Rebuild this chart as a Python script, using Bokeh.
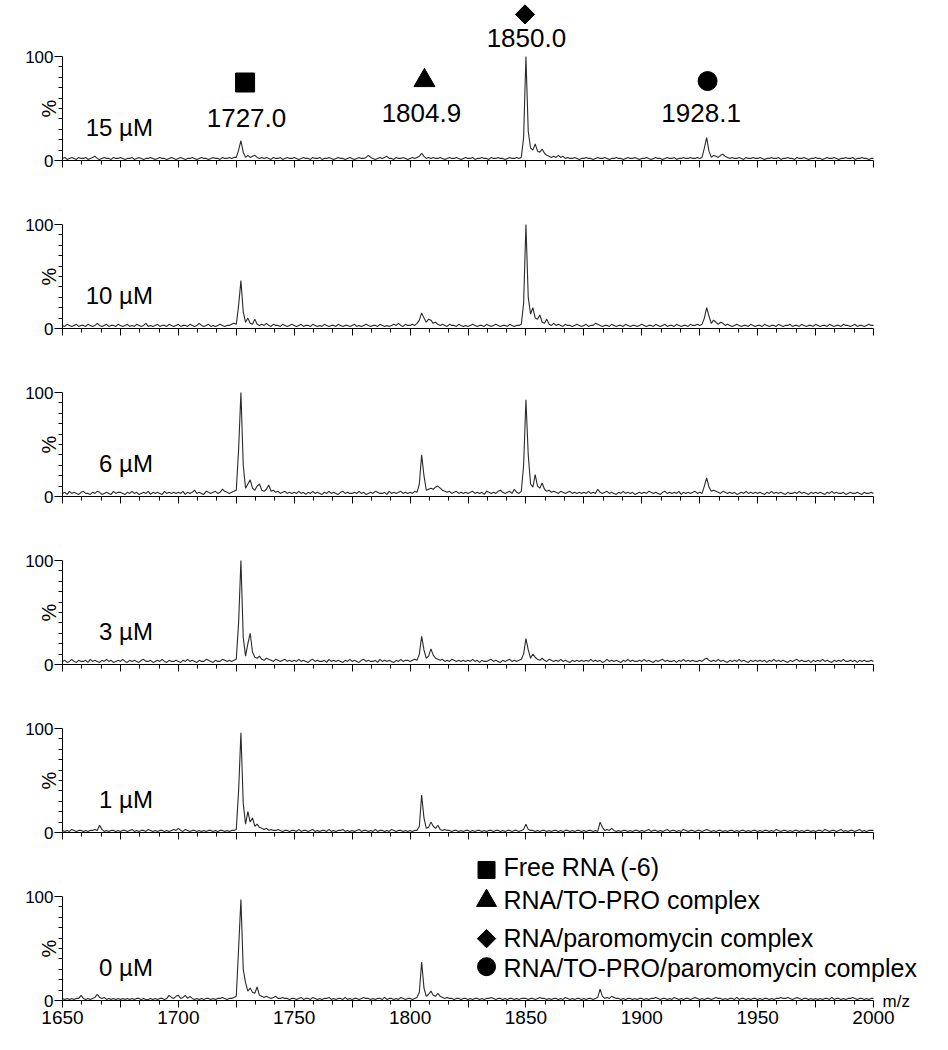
import math
from bokeh.plotting import figure
from bokeh.layouts import column
from bokeh.models import Range1d, FixedTicker, LinearAxis, ColumnDataSource
from bokeh.core.properties import value
from bokeh.embed import file_html
from bokeh.resources import INLINE

# ---------------- data ----------------
mz = list(range(1650, 2001))  # m/z grid, 1 unit step

int_15uM = [
    2,3,1,2,3, 2,1,3,2,2, 3,1,2,3,4, 2,1,2,3,2, 2,1,3,2,2,
    3,2,1,2,2, 3,1,2,3,2, 1,2,2,3,2, 1,2,3,2,2, 1,2,3,2,1,
    2,3,2,1,2, 2,3,2,1,2, 3,2,2,1,2, 3,2,2,1,3, 2,2,3,2,3,
    3,10,19,8,3, 5,3,4,5,3, 2,3,2,3,2, 1,3,2,2,3, 1,2,3,2,2,
    3,2,1,2,3, 2,2,1,3,2, 2,3,1,2,2, 3,2,1,2,3, 2,2,1,2,3,
    2,1,2,3,2, 2,3,5,3,2, 1,2,3,2,3, 4,2,2,1,3, 2,2,3,2,1,
    2,3,2,3,4, 7,4,2,3,2, 3,2,2,3,2, 1,2,3,2,2, 3,2,1,2,3,
    2,2,3,1,2, 2,3,2,2,1, 3,2,2,3,2, 2,1,2,3,2, 2,3,2,3,22,
    100,28,12,10,16, 9,8,11,7,5, 4,3,4,3,5, 3,4,2,3,2, 2,3,2,1,2,
    2,3,2,2,1, 2,3,2,2,3, 2,1,2,2,3, 2,2,1,2,3, 2,2,3,2,1,
    2,2,3,2,1, 2,3,2,2,1, 2,3,2,2,3, 1,2,2,3,2, 2,3,2,2,3,
    2,3,12,22,9, 3,5,4,3,5, 6,4,3,2,3, 2,2,3,2,1, 3,2,2,3,2,
    2,3,2,1,2, 2,3,2,2,3, 1,2,2,3,2, 2,1,3,2,2, 3,2,1,2,2,
    3,2,2,1,2, 3,2,2,3,2, 1,2,2,3,2, 2,3,1,2,2, 3,2,2,1,2,
    2,
]

int_10uM = [
    3,2,4,3,2, 3,4,2,3,3, 2,4,3,2,3, 5,3,2,3,4, 2,3,3,2,4,
    3,2,3,4,2, 3,2,4,3,2, 3,5,2,3,2, 3,4,2,3,3, 2,4,3,2,3,
    4,2,3,3,2, 4,3,2,3,5, 3,2,3,4,2, 3,2,3,4,3, 2,3,3,4,5,
    4,22,46,16,6, 10,5,4,9,4, 3,4,3,5,3, 2,4,3,3,2, 4,3,2,3,4,
    3,2,3,4,2, 3,3,2,4,3, 2,3,2,4,3, 2,3,3,2,4, 3,2,3,3,2,
    3,4,2,3,2, 3,4,3,2,3, 3,2,4,3,2, 3,2,3,4,3, 5,3,2,4,3,
    3,4,3,5,8, 15,10,6,9,8, 5,6,4,3,4, 3,2,4,3,3, 2,4,3,2,3,
    2,3,4,3,2, 3,3,2,4,3, 2,3,4,3,2, 3,3,2,4,3, 2,3,3,4,24,
    100,30,14,20,10, 9,13,6,5,9, 4,3,5,3,4, 3,2,4,3,3, 2,3,4,3,2,
    3,4,2,3,3, 5,4,3,2,3, 3,2,4,3,2, 3,3,2,4,3, 2,3,3,2,3,
    4,3,2,3,3, 2,4,3,2,3, 4,2,3,3,2, 4,3,2,3,3, 2,4,3,3,4,
    3,4,10,20,12, 5,8,6,4,6, 5,3,4,3,2, 3,4,3,2,3, 3,2,4,3,2,
    3,3,2,4,3, 2,3,3,2,4, 3,2,3,3,4, 2,3,3,2,4, 3,2,3,3,2,
    4,3,2,3,3, 2,4,3,2,3, 3,2,4,3,3, 2,3,4,2,3, 3,2,3,4,3,
    3,
]

int_6uM = [
    3,4,2,5,3, 4,3,2,4,5, 3,3,2,4,3, 5,4,2,3,4, 3,2,5,3,4,
    4,3,2,4,3, 5,3,4,2,3, 4,3,5,2,4, 3,4,3,2,5, 3,4,3,4,3,
    4,3,5,2,4, 3,4,6,3,4, 3,2,5,4,3, 4,5,3,4,7, 5,4,3,4,5,
    6,45,100,30,8, 12,16,8,6,10, 12,6,5,7,11, 5,6,4,5,3, 4,5,3,4,3,
    4,3,5,3,4, 2,4,3,5,3, 4,3,2,4,3, 5,3,4,3,2, 4,5,3,4,3,
    3,4,3,5,3, 4,2,3,4,3, 5,4,3,3,4, 2,5,3,4,3, 4,5,3,4,3,
    4,3,5,4,12, 40,20,6,7,8, 7,9,10,8,6, 5,4,5,3,4, 5,3,4,3,4,
    3,4,5,3,4, 3,4,2,5,4, 3,4,3,5,6, 4,3,4,5,3, 7,4,3,5,30,
    93,40,12,9,21, 10,8,13,7,5, 6,4,5,4,3, 5,4,3,4,5, 3,4,3,4,3,
    4,3,5,3,4, 3,7,4,3,4, 5,3,4,3,2, 4,3,5,3,4, 3,4,2,3,4,
    3,4,3,5,4, 3,4,3,2,4, 5,3,4,3,4, 3,5,2,4,3, 4,3,4,5,3,
    4,3,10,18,9, 5,6,5,4,3, 5,4,3,4,3, 4,2,3,4,3, 5,3,4,3,4,
    3,4,3,2,4, 3,5,3,4,3, 4,3,2,4,3, 3,4,3,5,3, 4,3,2,4,3,
    4,3,4,3,2, 4,3,5,3,4, 3,3,4,2,3, 4,3,3,4,3, 2,4,3,3,4,
    3,
]

int_3uM = [
    3,4,2,3,5, 3,2,4,3,3, 4,2,5,3,4, 3,2,4,3,5, 3,4,2,3,4,
    3,5,3,2,4, 3,4,3,2,4, 5,3,3,4,2, 3,4,3,5,3, 2,4,3,3,4,
    3,2,4,3,5, 3,4,3,2,4, 3,3,5,4,3, 2,4,3,3,5, 4,3,4,3,4,
    5,40,100,26,8, 20,30,12,7,6, 8,5,4,6,5, 4,3,5,4,3, 4,5,3,4,3,
    4,3,5,3,4, 3,2,4,5,3, 4,3,3,4,2, 5,3,4,3,4, 3,2,4,3,5,
    3,4,3,2,4, 5,3,4,3,3, 4,2,5,3,4, 3,4,3,2,4, 3,5,3,4,4,
    3,4,5,4,10, 27,14,6,8,15, 9,6,5,4,5, 3,4,3,5,4, 3,4,3,4,3,
    4,3,5,3,4, 2,4,3,3,4, 5,3,4,3,2, 4,3,4,5,3, 4,3,4,5,10,
    25,14,6,10,7, 5,4,6,4,3, 5,4,3,4,3, 5,3,4,3,2, 4,3,4,3,4,
    3,4,3,5,3, 4,3,4,2,3, 5,3,4,3,4, 3,2,4,3,5, 3,4,3,3,4,
    3,5,3,4,3, 2,4,3,4,5, 3,4,3,3,4, 2,4,3,5,3, 4,3,4,3,3,
    4,3,5,6,4, 3,4,3,5,3, 4,3,2,4,3, 4,3,5,3,4, 3,2,4,3,4,
    3,4,3,4,2, 4,3,5,3,4, 3,4,3,2,4, 3,4,5,3,4, 3,3,4,2,4,
    3,4,3,5,3, 4,3,2,4,3, 4,3,5,3,3, 4,3,4,2,4, 3,4,3,3,4,
    3,
]

int_1uM = [
    2,1,2,1,3, 2,1,2,2,1, 2,1,2,2,3, 2,7,3,1,2, 1,2,2,1,2,
    1,2,2,1,2, 3,1,2,1,2, 2,1,3,2,1, 2,1,2,2,1, 2,1,2,3,2,
    4,2,1,3,2, 1,2,2,1,2, 1,2,1,2,2, 1,2,1,2,2, 1,2,1,2,2,
    3,40,96,28,8, 20,10,14,6,8, 5,4,3,4,2, 3,2,2,3,2, 1,2,2,1,2,
    2,1,3,1,2, 2,1,2,3,1, 2,1,2,2,1, 3,1,2,1,2, 2,3,1,2,1,
    2,1,2,3,1, 2,2,1,2,1, 3,1,2,2,1, 2,1,3,2,1, 2,2,1,2,1,
    2,1,2,2,6, 36,14,4,5,10, 6,4,7,3,2, 3,2,2,1,2, 2,1,2,1,2,
    2,1,2,1,2, 2,1,2,1,2, 2,1,2,2,1, 2,1,2,2,1, 2,2,1,2,3,
    8,3,2,2,1, 2,1,2,2,1, 2,1,2,2,1, 2,1,2,2,1, 2,1,2,2,1,
    2,1,2,2,1, 2,1,10,5,2, 3,2,4,2,1, 2,1,2,2,1, 2,1,2,2,1,
    2,1,2,3,1, 2,2,1,2,1, 2,3,1,2,2, 1,2,1,3,2, 1,2,2,1,2,
    2,1,2,3,2, 1,2,1,2,2, 1,2,1,2,2, 1,2,1,2,2, 1,2,1,2,2,
    1,2,1,2,2, 1,2,1,3,2, 1,2,2,1,2, 1,2,2,1,2, 1,2,2,1,2,
    1,2,2,1,3, 2,1,2,2,1, 2,3,1,2,1, 2,2,1,2,3, 1,2,1,2,2,
    2,
]

int_0uM = [
    2,1,2,1,2, 1,2,2,5,2, 1,2,1,2,3, 6,3,2,3,1, 2,1,2,1,2,
    1,2,1,2,1, 2,1,2,2,1, 2,1,1,2,1, 2,1,2,2,1, 2,5,3,2,4,
    5,2,3,5,2, 4,2,1,2,1, 2,1,2,2,1, 2,1,2,2,3, 2,1,2,2,3,
    4,50,97,30,17, 9,12,8,7,13, 5,4,3,4,3, 2,3,4,2,2, 3,2,2,1,2,
    2,1,2,3,1, 2,2,1,3,2, 1,2,1,2,2, 3,1,2,1,2, 2,1,3,1,2,
    1,2,2,1,2, 3,2,2,1,2, 1,2,2,1,3, 1,2,2,1,2, 1,3,2,1,2,
    2,1,2,3,8, 37,12,4,6,9, 5,4,7,4,3, 2,3,2,2,1, 2,2,1,2,2,
    1,2,1,2,2, 1,2,1,2,2, 3,2,1,2,2, 1,2,1,2,2, 1,2,1,2,2,
    2,1,2,2,1, 2,3,2,2,1, 2,1,2,2,1, 2,1,3,2,1, 2,1,2,2,1,
    2,1,2,2,1, 2,3,11,4,2, 3,2,4,3,2, 2,1,2,1,2, 2,1,2,1,2,
    2,1,2,1,2, 2,3,2,1,2, 2,1,2,1,3, 2,1,2,1,2, 2,1,2,3,2,
    1,2,1,2,2, 1,2,3,2,2, 1,2,1,2,2, 1,3,1,2,2, 1,2,1,2,2,
    1,2,1,2,2, 1,2,1,2,2, 3,2,2,3,2, 1,2,3,2,1, 2,2,1,2,1,
    2,1,2,1,2, 2,1,3,1,2, 2,1,2,1,2, 2,3,2,1,2, 2,1,2,1,2,
    2,
]

concentrations = ["15 \u00b5M", "10 \u00b5M", "6 \u00b5M", "3 \u00b5M", "1 \u00b5M", "0 \u00b5M"]
spectra = [int_15uM, int_10uM, int_6uM, int_3uM, int_1uM, int_0uM]

peak_mz = [1727.0, 1804.9, 1850.0, 1928.1]
peak_labels = ["1727.0", "1804.9", "1850.0", "1928.1"]
legend_labels = ["Free RNA (-6)", "RNA/TO-PRO complex",
                 "RNA/paromomycin complex", "RNA/TO-PRO/paromomycin  complex"]

x_major = list(range(1650, 2001, 25))
x_labelled = list(range(1650, 2001, 50))
y_major = [0, 100]
y_minor = [10, 20, 30, 40, 50, 60, 70, 80, 90]

# ---------------- layout / style ----------------
FONT = "Liberation Sans"
PX_PER_UNIT = 811 / 350.0          # horizontal px per m/z unit
AXIS_PX = 62                       # screen x of m/z 1650
FIG_W = 932
X0 = 1650 - AXIS_PX / PX_PER_UNIT
X1 = X0 + FIG_W / PX_PER_UNIT
K = 1.04                           # vertical px per % unit
x_minor = [t + d * 25 / 3.0 for t in x_major[:-1] for d in (1, 2)]
x_long_unlabelled = [t for t in x_major if t not in x_labelled]

# canvas heights and position of the zero line inside each canvas
fig_heights = [175, 168, 168, 168, 168, 187]
zero_from_top = [160, 153, 153, 153, 153, 153]

# symbol layout (data coords in panel 1 / panel 6)
mark_x = [1728.8, 1806.2, 1849.6, 1928.4]
mark_y = [75.0, 76.9, 140.5, 76.4]
lab_x = [1729.4, 1804.9, 1850.2, 1925.6]
lab_y = [40.9, 45.7, 117.8, 45.2]
markers = ["square", "triangle", "square", "circle"]
msizes = [19, 21, 13.5, 19]
mangles = [0, 0, math.pi / 4, 0]
leg_mark_sizes = [17, 20, 13, 18]
leg_mark_y = [125.5, 96.0, 59.5, 32.5]
leg_text_y = [128.5, 97.0, 60.5, 31.5]
leg_mark_x = 1833.0
leg_text_x = 1840.3


def style_axis(ax):
    ax.axis_line_color = "black"
    ax.major_tick_line_color = "black"
    ax.minor_tick_line_color = "black"
    ax.major_tick_in = 0
    ax.minor_tick_in = 0
    ax.major_label_text_font = FONT
    ax.major_label_text_color = "black"


figs = []
n = len(spectra)
for i, (conc, ys) in enumerate(zip(concentrations, spectra)):
    first = i == 0
    last = i == n - 1
    h = fig_heights[i]
    z = zero_from_top[i]
    p = figure(width=FIG_W, height=h,
               x_range=Range1d(X0, X1), y_range=Range1d(-(h - z) / K, z / K),
               output_backend="svg", toolbar_location=None,
               x_axis_location=None, y_axis_location=None,
               min_border_left=0, min_border_right=0, min_border_top=0, min_border_bottom=0)
    p.outline_line_color = None
    p.grid.visible = False
    p.background_fill_color = "white"
    p.border_fill_color = "white"

    # y axis at m/z 1650
    ya = LinearAxis(fixed_location=1650, bounds=(0, 100),
                    ticker=FixedTicker(ticks=y_major, minor_ticks=y_minor))
    style_axis(ya)
    ya.major_tick_out = 8
    ya.minor_tick_out = 4
    ya.major_label_standoff = 1
    ya.major_label_text_font_size = "17px"
    p.add_layout(ya, "left")

    # x axis (long ticks every 25, labels only on the bottom panel)
    if last:
        xt = FixedTicker(ticks=x_labelled, minor_ticks=x_long_unlabelled)
    else:
        xt = FixedTicker(ticks=[], minor_ticks=x_major)
    xa = LinearAxis(fixed_location=0, bounds=(1650, 2000), ticker=xt)
    style_axis(xa)
    xa.major_tick_out = 7
    xa.minor_tick_out = 7
    xa.major_label_standoff = 3
    xa.major_label_text_font_size = "19px"
    p.add_layout(xa, "below")

    # short x ticks
    xs = LinearAxis(fixed_location=0, bounds=(1650, 2000),
                    ticker=FixedTicker(ticks=[], minor_ticks=x_minor))
    style_axis(xs)
    xs.axis_line_color = None
    xs.minor_tick_out = 4
    p.add_layout(xs, "below")

    # "%" axis title
    p.text(x=[1650 - 14 / PX_PER_UNIT], y=[50], text=["%"], angle=math.pi / 2,
           text_align="center", text_baseline="middle",
           text_font=value(FONT), text_font_size=value("20px"), text_color="black")

    src = ColumnDataSource(dict(x=mz, y=ys))
    p.line("x", "y", source=src, line_color="#2a2a2a", line_width=1.1)

    p.text(x=[1689], y=[32], text=[conc], text_align="right", text_baseline="middle",
           text_font=value(FONT), text_font_size=value("24px"), text_color="black")

    if first:
        ms = ColumnDataSource(dict(x=mark_x, y=mark_y, marker=markers, size=msizes, angle=mangles))
        p.scatter("x", "y", source=ms, marker="marker", size="size", angle="angle",
                  fill_color="black", line_color="black")
        p.text(x=lab_x, y=lab_y, text=peak_labels, text_align="center", text_baseline="middle",
               text_font=value(FONT), text_font_size=value("26px"), text_color="black")

    if last:
        ls = ColumnDataSource(dict(x=[leg_mark_x] * 4, y=leg_mark_y, marker=markers,
                                   size=leg_mark_sizes, angle=mangles))
        p.scatter("x", "y", source=ls, marker="marker", size="size", angle="angle",
                  fill_color="black", line_color="black")
        p.text(x=[leg_text_x] * 4, y=leg_text_y, text=legend_labels, text_align="left",
               text_baseline="middle", text_font=value(FONT), text_font_size=value("25px"),
               text_color="black")
        p.text(x=[2003.9], y=[-1], text=["m/z"], text_align="left", text_baseline="middle",
               text_font=value(FONT), text_font_size=value("17px"), text_color="black")

    figs.append(p)

layout = column(*figs, spacing=0)
open("out.html", "w").write(file_html(layout, INLINE))
